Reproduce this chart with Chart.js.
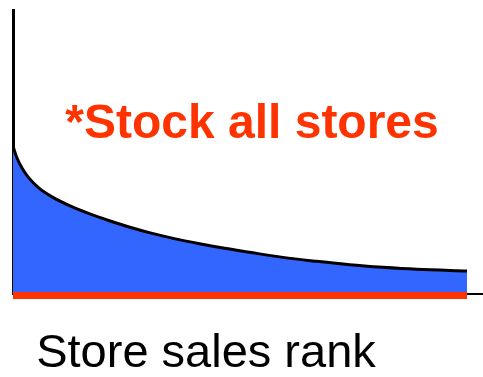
<!DOCTYPE html>
<html>
<head>
<meta charset="UTF-8">
<title>Store sales rank</title>
<script src="https://cdn.jsdelivr.net/npm/chart.js"></script>
<style>
  html, body { margin: 0; padding: 0; background: #fff; }
  #wrap { width: 483px; height: 377px; position: relative; }
</style>
</head>
<body>
<div id="wrap"><canvas id="c" width="483" height="377"></canvas></div>
<script>
// store rank (percent of stores, best first) and relative sales per store
const rank  = [0, 0.21, 0.85, 1.92, 3.41, 5.54, 8.32, 11.9, 16.2, 20.5, 24.7, 29.0, 34.3, 39.7, 45.0, 50.3, 57.4, 64.6, 71.6, 78.7, 85.9, 96.6];
const sales = [52.5, 51.0, 47.9, 44.4, 40.8, 37.3, 34.2, 31.2, 28.3, 25.8, 23.6, 21.6, 19.5, 17.7, 16.1, 14.7, 12.9, 11.5, 10.3, 9.4, 8.7, 8.1];
// stocking span: every store from first to last rank
const stockRank = [0, 96.6];
const stockLevel = [-0.5, -0.5];

const headline = '*Stock all stores';
const axisLabel = 'Store sales rank';

const RED = '#FF3300';
const BLUE = '#3366FF';

// captions drawn on the canvas after the datasets
const captions = {
  id: 'captions',
  afterDatasetsDraw(chart) {
    const ctx = chart.ctx;
    ctx.save();
    ctx.textAlign = 'center';
    ctx.textBaseline = 'alphabetic';
    ctx.font = 'bold 48px "Liberation Sans", Arial, sans-serif';
    ctx.fillStyle = RED;
    ctx.fillText(headline, 252, 138);
    ctx.font = '47px "Liberation Sans", Arial, sans-serif';
    ctx.fillStyle = '#000';
    ctx.fillText(axisLabel, 206, 367);
    ctx.restore();
  }
};

new Chart(document.getElementById('c'), {
  type: 'line',
  data: {
    datasets: [
      {
        data: stockRank.map((x, i) => ({ x, y: stockLevel[i] })),
        borderColor: RED,
        borderWidth: 7,
        borderCapStyle: 'butt',
        pointRadius: 0,
        fill: false,
        clip: false,
        order: 0
      },
      {
        data: rank.map((x, i) => ({ x, y: sales[i] })),
        borderColor: '#000',
        borderWidth: 3,
        backgroundColor: BLUE,
        fill: 'origin',
        pointRadius: 0,
        cubicInterpolationMode: 'monotone',
        order: 1
      }
    ]
  },
  options: {
    responsive: false,
    animation: false,
    devicePixelRatio: 1,
    layout: { padding: { left: 13, top: 10, right: 0, bottom: 83 } },
    plugins: { legend: { display: false }, tooltip: { enabled: false } },
    scales: {
      x: {
        type: 'linear', min: 0, max: 100,
        grid: { display: false, drawTicks: false },
        ticks: { display: false },
        border: { display: true, color: '#000', width: 2 }
      },
      y: {
        min: 0, max: 100,
        grid: { display: false, drawTicks: false },
        ticks: { display: false },
        border: { display: true, color: '#000', width: 3 }
      }
    }
  },
  plugins: [captions]
});
</script>
</body>
</html>
